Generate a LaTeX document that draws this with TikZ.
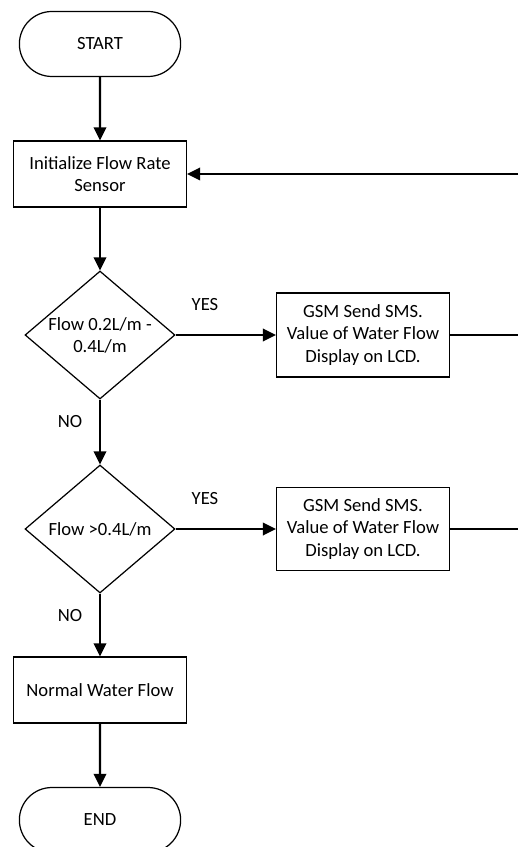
\documentclass[tikz,border=0pt]{standalone}
\usepackage{fontspec}
\setmainfont{Carlito}
\usetikzlibrary{shapes.geometric,shapes.misc,arrows.meta}

\tikzset{
    term/.style={draw, rounded rectangle, minimum width=3.46cm, minimum height=1.3cm, line width=0.7pt},
    proc/.style={draw, rectangle, minimum width=3.46cm, minimum height=1.32cm, align=center, line width=0.7pt},
    decide/.style={draw, diamond, minimum width=3cm, minimum height=2.56cm, inner sep=-4pt, align=center, line width=0.7pt},
    flow/.style={line width=1.2pt, -{Triangle[length=0.26cm,width=0.25cm]}}
}

\begin{document}
\begin{tikzpicture}[x=0.02cm, y=-0.02cm, font=\fontsize{10.6}{12.6}\selectfont]
    \useasboundingbox (0,0) rectangle (518,847);

    \node[term] (start) at (100,44) {START};
    \node[proc] (init) at (100,174) {Initialize Flow Rate\\Sensor};

    \node[decide] (dec1) at (100,335) {Flow 0.2L/m -\\0.4L/m};
    \node[proc, minimum height=1.68cm, inner sep=1pt] (gsm1) at (363,335) {GSM Send SMS.\\Value of Water Flow\\Display on LCD.};

    \node[decide] (dec2) at (100,529) {Flow >0.4L/m};
    \node[proc, minimum height=1.66cm, inner sep=1pt] (gsm2) at (363,529) {GSM Send SMS.\\Value of Water Flow\\Display on LCD.};

    \node[proc] (normal) at (100,690) {Normal Water Flow};
    \node[term] (stop) at (100,820) {END};

    \node (yes1) at (205,305) {YES};
    \node (yes2) at (205,499) {YES};
    \node (no1) at (70,422) {NO};
    \node (no2) at (70,616) {NO};

    \coordinate (back) at (518,174);
    \coordinate (out1) at (518,335);
    \coordinate (out2) at (518,529);

    \draw[flow] (start) -- (init);
    \draw[flow] (init) -- (dec1);
    \draw[flow] (dec1) -- (dec2);
    \draw[flow] (dec2) -- (normal);
    \draw[flow] (normal) -- (stop);
    \draw[flow] (dec1) -- (gsm1);
    \draw[flow] (dec2) -- (gsm2);
    \draw[line width=1.2pt] (gsm1) -- (out1);
    \draw[line width=1.2pt] (gsm2) -- (out2);
    \draw[flow] (back) -- (init);
\end{tikzpicture}
\end{document}
